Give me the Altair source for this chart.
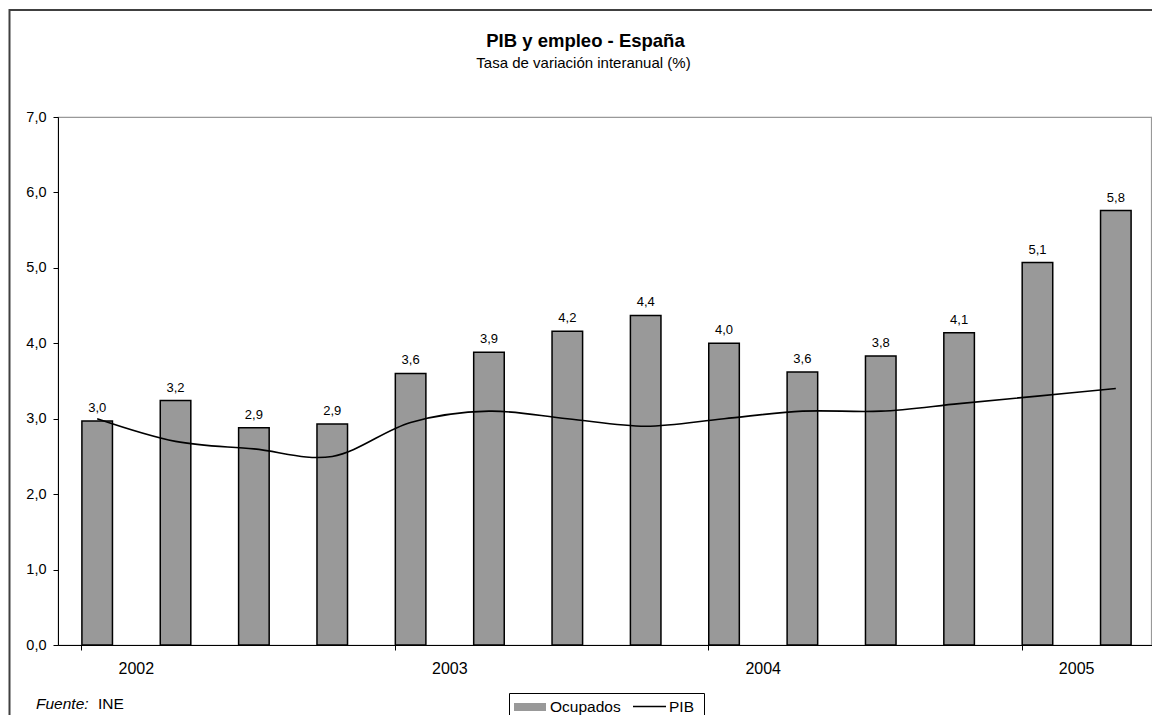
import altair as alt
import pandas as pd

# ---- data ----
quarters = ["2002-T1", "2002-T2", "2002-T3", "2002-T4",
            "2003-T1", "2003-T2", "2003-T3", "2003-T4",
            "2004-T1", "2004-T2", "2004-T3", "2004-T4",
            "2005-T1", "2005-T2"]
ocupados = [2.97, 3.24, 2.88, 2.93, 3.60, 3.88, 4.16, 4.37, 4.00, 3.62, 3.83, 4.14, 5.07, 5.76]
pib = [3.0, 2.7, 2.6, 2.5, 2.95, 3.1, 3.0, 2.9, 3.0, 3.1, 3.1, 3.2, 3.3, 3.4]
year_ticks = ["2002-T1", "2003-T1", "2004-T1", "2005-T1"]
y_ticks = [0, 1, 2, 3, 4, 5, 6, 7]

title_text = "PIB y empleo - España"
subtitle_text = "Tasa de variación interanual (%)"
source_label = "Fuente:"
source_text = "INE"

FONT = "Liberation Sans"

df = pd.DataFrame({
    "q": quarters,
    "ocup": ocupados,
    "pib": pib,
    "s_bar": ["Ocupados"] * len(quarters),
    "s_line": ["PIB"] * len(quarters),
})

W, H = 1097, 528
STEP = W / len(quarters)

x_enc = alt.X(
    "q:N", sort=quarters,
    scale=alt.Scale(paddingInner=0.61, paddingOuter=0.305),
    axis=alt.Axis(
        values=year_ticks,
        labelExpr="split(datum.label, '-')[0]",
        labelAngle=0, bandPosition=0, labelOffset=STEP / 2,
        tickSize=5, labelPadding=10, title=None,
        labelFontSize=16, labelFont=FONT, labelColor="black",
        domainColor="black", tickColor="black", grid=False,
    ),
)
y_scale = alt.Scale(domain=[0, 7], nice=False)
y_enc = alt.Y(
    "ocup:Q", scale=y_scale,
    axis=alt.Axis(
        values=y_ticks,
        labelExpr="replace(format(datum.value, '.1f'), '.', ',')",
        tickSize=5, labelPadding=7, title=None, grid=False,
        labelFontSize=14.5, labelFont=FONT, labelColor="black",
        domainColor="black", tickColor="black",
    ),
)

one = alt.Data(values=[{"a": 1}])

frame = alt.Chart(one).mark_rect(
    fill="transparent", stroke="#404040", strokeWidth=2
).encode(
    x=alt.value(9.5 - 58), y=alt.value(10 - 117),
    x2=alt.value(1400), y2=alt.value(900),
)

right_border = alt.Chart(one).mark_rule(
    color="#999999", strokeWidth=1.2
).encode(
    x=alt.value(1093.5), y=alt.value(0), y2=alt.value(H),
)

bars = alt.Chart(df).mark_bar(stroke="black", strokeWidth=1.5).encode(
    x=x_enc,
    y=y_enc,
    fill=alt.Fill(
        "s_bar:N",
        scale=alt.Scale(domain=["Ocupados"], range=["#999999"]),
        legend=alt.Legend(
            orient="none", legendX=456, legendY=574, title=None,
            symbolType="M-1,-0.25H1V0.25H-1Z", symbolSize=1024,
            symbolStrokeWidth=0, symbolOpacity=1, symbolFillColor="#999999",
            labelFont=FONT, labelFontSize=15.5, labelColor="black",
            labelOffset=4, padding=0,
        ),
    ),
)

line = alt.Chart(df).mark_line(interpolate="cardinal", strokeWidth=1.6).encode(
    x=alt.X("q:N", sort=quarters),
    y=alt.Y("pib:Q", scale=y_scale),
    stroke=alt.Stroke(
        "s_line:N",
        scale=alt.Scale(domain=["PIB"], range=["black"]),
        legend=alt.Legend(
            orient="none", legendX=574, legendY=572, title=None,
            symbolType="stroke", symbolSize=1089, symbolStrokeWidth=1.5,
            labelFont=FONT, labelFontSize=15.5, labelColor="black",
            labelOffset=2, padding=0,
        ),
    ),
)

labels = alt.Chart(df).transform_calculate(
    lab="replace(format(datum.ocup, '.1f'), '.', ',')"
).mark_text(
    baseline="alphabetic", align="center", dy=-9,
    font=FONT, fontSize=13, color="black",
).encode(
    x=alt.X("q:N", sort=quarters),
    y=alt.Y("ocup:Q", scale=y_scale),
    text="lab:N",
)

legend_box = alt.Chart(one).mark_rect(
    fill="white", stroke="black", strokeWidth=1
).encode(
    x=alt.value(451.5), x2=alt.value(646.5),
    y=alt.value(576.5), y2=alt.value(640),
)

title = alt.Chart(one).mark_text(
    font=FONT, fontSize=18.5, fontWeight="bold", align="center",
    baseline="alphabetic", color="black",
).encode(x=alt.value(527.5), y=alt.value(-70.3), text=alt.value(title_text))

subtitle = alt.Chart(one).mark_text(
    font=FONT, fontSize=15, align="center", baseline="alphabetic", color="black",
).encode(x=alt.value(525.5), y=alt.value(-49.3), text=alt.value(subtitle_text))

src1 = alt.Chart(one).mark_text(
    font=FONT, fontSize=15.5, fontStyle="italic", align="left",
    baseline="alphabetic", color="black",
).encode(x=alt.value(36 - 58), y=alt.value(709.3 - 117), text=alt.value(source_label))

src2 = alt.Chart(one).mark_text(
    font=FONT, fontSize=15.5, align="left", baseline="alphabetic", color="black",
).encode(x=alt.value(98 - 58), y=alt.value(709.3 - 117), text=alt.value(source_text))

chart = alt.layer(
    frame, right_border, bars, line, labels, legend_box, title, subtitle, src1, src2
).properties(
    width=W, height=H,
    padding={"left": 50, "top": 109, "right": -3, "bottom": 70},
    autosize=alt.AutoSizeParams(type="none"),
    background="white",
).configure_view(
    stroke="#999999", strokeWidth=1.2
).resolve_scale(
    fill="independent", stroke="independent"
)

chart.save("out.html", embed_options={"renderer": "svg", "actions": False})
